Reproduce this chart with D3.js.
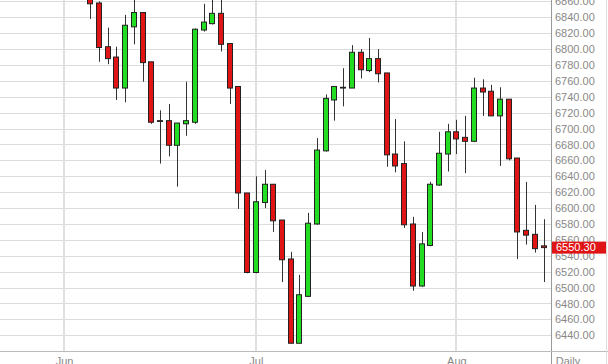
<!DOCTYPE html>
<html>
<head>
<meta charset="utf-8">
<script src="https://cdn.jsdelivr.net/npm/d3@7"></script>
<style>
  body { margin: 0; background: #fff; }
  text { font-family: "Liberation Sans", Arial, sans-serif; font-size: 11px; }
</style>
</head>
<body>
<div class="container"></div>
<script>
var w = 608;
var h = 364;

// daily candles, index 0 = first visible session
var opens  = [6870, 6858, 6803, 6790, 6751, 6828, 6846, 6784, 6710, 6710, 6679, 6706, 6708, 6824, 6832, 6845, 6807, 6753, 6619, 6519, 6607, 6630, 6585, 6536, 6430, 6489, 6580, 6672, 6736, 6752, 6751, 6796, 6773, 6788, 6770, 6668, 6656, 6580, 6502, 6553, 6629, 6668, 6696, 6689, 6684, 6751, 6747, 6716, 6737, 6663, 6572, 6567, 6552.5];
var highs  = [6880, 6860, 6827, 6803, 6843, 6870, 6846, 6784, 6723, 6731, 6707, 6759, 6826, 6857, 6870, 6870, 6807, 6753, 6619, 6640, 6648, 6630, 6585, 6545, 6516, 6594, 6688, 6743, 6753, 6776, 6805, 6800, 6814, 6800, 6770, 6712, 6684, 6589, 6570, 6633, 6696, 6706, 6711, 6716, 6764, 6762, 6755, 6752, 6737, 6663, 6633, 6604, 6586];
var lows   = [6838, 6784, 6781, 6736, 6733, 6806, 6759, 6706, 6656, 6665, 6627, 6691, 6706, 6822, 6831, 6797, 6731, 6599, 6518, 6518, 6600, 6570, 6507, 6430, 6430, 6488, 6579, 6671, 6710, 6728, 6751, 6763, 6771, 6758, 6652, 6645, 6575, 6496, 6501, 6552, 6628, 6646, 6668, 6644, 6683, 6716, 6716, 6653, 6660, 6536, 6554, 6544, 6507];
var closes = [6857, 6802, 6788, 6751, 6830, 6846, 6783, 6708, 6709, 6679, 6707, 6710, 6825, 6834, 6845, 6806, 6751, 6619, 6519, 6608, 6630, 6584, 6535, 6430, 6491, 6581, 6673, 6738, 6753, 6751, 6796, 6774, 6788, 6769, 6667, 6653, 6579, 6502, 6555, 6630, 6669, 6696, 6687, 6684, 6751, 6746, 6716, 6737, 6662, 6570, 6566, 6549, 6550.3];

var yTicks = [6440, 6460, 6480, 6500, 6520, 6540, 6560, 6580, 6600, 6620, 6640, 6660, 6680, 6700, 6720, 6740, 6760, 6780, 6800, 6820, 6840, 6860];
var monthIdx = [-3, 19, 42];
var monthLabels = ["Jun", "Jul", "Aug"];
var lastPrice = 6550.30;

var data = opens.map((o, i) => ({ i: i, o: o, h: highs[i], l: lows[i], c: closes[i] }));

var plotW = 551;
var plotH = 351;

var svg = d3.select(".container").append("svg")
  .attr("width", w)
  .attr("height", h);

var x = d3.scaleLinear().domain([-10.35, 52.85]).range([0, plotW]);
var y = d3.scaleLinear().domain([6420.25, 6861.76]).range([plotH, 0]);

svg.append("clipPath").attr("id", "plot")
  .append("rect").attr("width", plotW).attr("height", plotH);

// horizontal grid
svg.append("g")
  .selectAll("line")
  .data(yTicks)
  .enter()
  .append("line")
  .attr("x1", 0)
  .attr("x2", plotW)
  .attr("y1", d => Math.round(y(d)) + 0.5)
  .attr("y2", d => Math.round(y(d)) + 0.5)
  .attr("stroke", "#dcdcdc");

// month separators
svg.append("g")
  .selectAll("line")
  .data(monthIdx)
  .enter()
  .append("line")
  .attr("x1", d => Math.round(x(d)))
  .attr("x2", d => Math.round(x(d)))
  .attr("y1", 0)
  .attr("y2", plotH)
  .attr("stroke", "#e0e0e0")
  .attr("stroke-width", 2);

var candles = svg.append("g").attr("clip-path", "url(#plot)");

// wicks
candles.selectAll("line")
  .data(data)
  .enter()
  .append("line")
  .attr("x1", d => Math.round(x(d.i)) + 0.5)
  .attr("x2", d => Math.round(x(d.i)) + 0.5)
  .attr("y1", d => y(d.h))
  .attr("y2", d => y(d.l))
  .attr("stroke", "#333");

// bodies
candles.selectAll("rect")
  .data(data)
  .enter()
  .append("rect")
  .attr("x", d => Math.round(x(d.i)) - 2.5)
  .attr("width", 5)
  .attr("y", d => y(Math.max(d.o, d.c)))
  .attr("height", d => Math.max(0.5, Math.abs(y(d.o) - y(d.c))))
  .attr("fill", d => d.c > d.o ? "#22dd22" : "#e01414")
  .attr("stroke", "#222")
  .attr("stroke-width", 1);

// axes frame
svg.append("line")
  .attr("x1", plotW + 0.5).attr("x2", plotW + 0.5)
  .attr("y1", 0).attr("y2", h)
  .attr("stroke", "#999");
svg.append("line")
  .attr("x1", 0).attr("x2", w)
  .attr("y1", plotH + 0.5).attr("y2", plotH + 0.5)
  .attr("stroke", "#bbb");
svg.append("line")
  .attr("x1", w - 1.5).attr("x2", w - 1.5)
  .attr("y1", 0).attr("y2", h)
  .attr("stroke", "#ddd");

// right price axis
var yAxis = d3.axisRight(y)
  .tickValues(yTicks)
  .tickSize(0)
  .tickPadding(4)
  .tickFormat(d3.format(".2f"));

svg.append("g")
  .attr("transform", "translate(" + plotW + ",0)")
  .call(yAxis)
  .call(g => g.select(".domain").remove())
  .call(g => g.selectAll("text").attr("fill", "#888").style("font-size", "11px").attr("font-family", null));

// bottom month axis
var xAxis = d3.axisBottom(x)
  .tickValues(monthIdx)
  .tickSize(0)
  .tickPadding(6)
  .tickFormat((d, i) => monthLabels[i]);

svg.append("g")
  .attr("transform", "translate(0," + plotH + ")")
  .call(xAxis)
  .call(g => g.select(".domain").remove())
  .call(g => g.selectAll("text").attr("fill", "#888").style("font-size", "11px").attr("font-family", null));

svg.append("text")
  .attr("x", 568)
  .attr("y", 365)
  .attr("text-anchor", "middle")
  .attr("fill", "#888")
  .text("Daily");

// last price tag
var tag = svg.append("g").attr("transform", "translate(" + (plotW + 1) + "," + y(lastPrice) + ")");
tag.append("rect")
  .attr("x", 0)
  .attr("y", -6)
  .attr("width", 54)
  .attr("height", 12)
  .attr("fill", "#e01414");
tag.append("text")
  .attr("x", 4)
  .attr("dy", "0.35em")
  .attr("fill", "#fff")
  .text(d3.format(".2f")(lastPrice));
</script>
</body>
</html>
